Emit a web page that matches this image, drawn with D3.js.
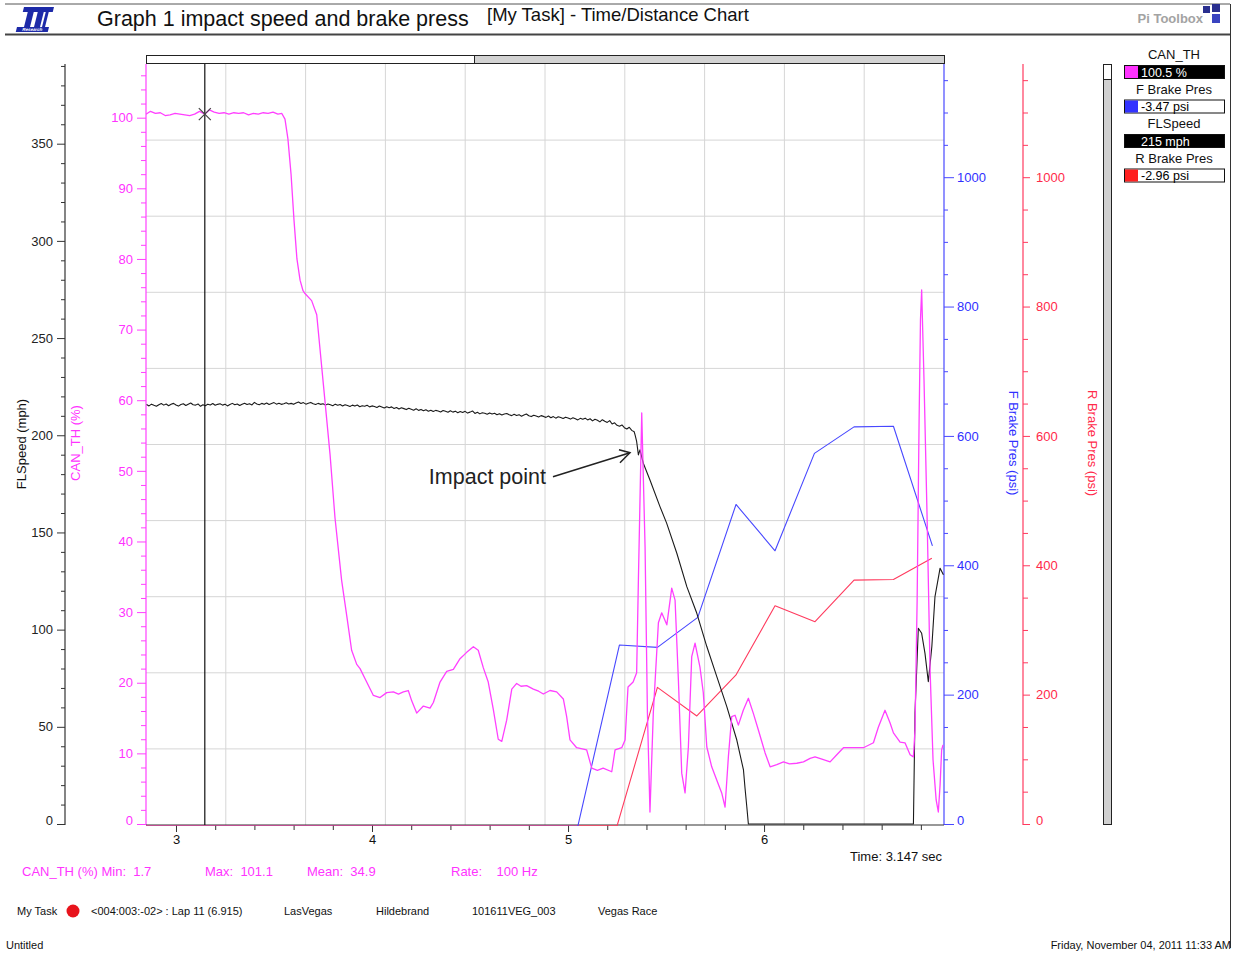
<!DOCTYPE html>
<html>
<head>
<meta charset="utf-8">
<script src="https://cdn.jsdelivr.net/npm/d3@7"></script>
<style>
  html, body { margin: 0; padding: 0; background: #fff; }
  svg { display: block; font-family: Arial, "Liberation Sans", sans-serif; }
</style>
</head>
<body>
<svg id="chart" width="1246" height="956"></svg>
<script>
// ---- Channel data: [time (s), value] ----
// CAN_TH throttle (%), 100 Hz
const canTh = [
  [2.847,100.5],[2.870,100.9],[2.895,100.6],[2.920,100.7],[2.945,100.3],[2.970,100.4],[2.995,100.6],
  [3.020,100.5],[3.045,100.4],[3.070,100.3],[3.095,100.5],[3.120,100.9],[3.147,100.5],[3.170,101.1],
  [3.195,100.8],[3.220,100.6],[3.245,100.7],[3.270,100.5],[3.295,100.7],[3.320,100.6],[3.345,100.7],
  [3.370,100.4],[3.395,100.6],[3.420,100.5],[3.445,100.7],[3.470,100.6],[3.495,100.8],[3.520,100.5],
  [3.540,100.6],[3.556,99.8],[3.571,97.0],[3.587,92.0],[3.602,85.5],[3.617,80.0],[3.633,77.0],
  [3.648,75.5],[3.658,75.1],[3.692,74.1],[3.718,72.1],[3.752,62.2],[3.786,52.3],[3.811,43.4],
  [3.845,34.5],[3.871,29.5],[3.896,24.6],[3.922,22.6],[3.939,22.0],[3.964,20.6],[4.007,18.2],
  [4.041,17.9],[4.075,18.6],[4.109,18.7],[4.135,18.4],[4.160,18.7],[4.185,18.9],[4.203,17.4],
  [4.228,15.7],[4.262,16.7],[4.296,16.4],[4.313,17.2],[4.347,20.1],[4.381,21.6],[4.415,21.9],
  [4.449,23.4],[4.483,24.3],[4.517,25.1],[4.542,24.6],[4.568,22.1],[4.593,20.1],[4.619,16.2],
  [4.644,12.0],[4.662,11.7],[4.687,14.7],[4.713,19.1],[4.738,19.9],[4.760,19.5],[4.789,19.6],
  [4.823,19.1],[4.850,18.8],[4.874,18.4],[4.908,18.9],[4.942,18.7],[4.976,17.7],[4.993,15.2],
  [5.010,11.9],[5.044,10.8],[5.095,10.5],[5.121,7.9],[5.150,7.6],[5.179,7.9],[5.223,7.4],
  [5.240,10.5],[5.274,10.8],[5.291,11.9],[5.306,19.4],[5.332,20.1],[5.350,21.4],[5.359,34.6],
  [5.376,58.2],[5.393,39.2],[5.405,15.7],[5.418,1.7],[5.435,15.7],[5.461,28.5],[5.478,29.9],
  [5.504,28.2],[5.529,33.4],[5.546,31.7],[5.563,20.4],[5.580,7.2],[5.597,4.4],[5.614,10.9],
  [5.631,23.7],[5.648,25.6],[5.673,22.2],[5.690,18.6],[5.708,10.9],[5.733,8.1],[5.759,6.2],
  [5.784,4.4],[5.801,2.4],[5.818,9.5],[5.835,15.2],[5.852,15.4],[5.869,14.0],[5.894,16.1],
  [5.920,17.8],[5.945,15.7],[5.971,13.3],[6.005,10.1],[6.031,8.1],[6.065,8.4],[6.099,8.8],
  [6.130,8.5],[6.167,8.6],[6.201,8.8],[6.235,9.3],[6.260,9.5],[6.303,9.1],[6.337,8.8],
  [6.371,9.8],[6.405,10.8],[6.456,10.8],[6.507,10.8],[6.558,11.5],[6.583,13.7],[6.617,16.1],
  [6.643,14.3],[6.660,12.9],[6.694,11.6],[6.719,11.5],[6.745,9.8],[6.762,9.5],[6.770,13.3],
  [6.781,31.7],[6.791,57.2],[6.798,71.4],[6.804,75.6],[6.816,62.9],[6.832,43.1],[6.847,21.8],
  [6.862,9.1],[6.878,3.4],[6.889,1.7],[6.898,5.5],[6.906,10.5],[6.913,11.2]
];

// FLSpeed (mph): logged samples every 0.0125 s up to the impact, then the deceleration
const speedStart = 2.85;
const speedStep = 0.0125;
const speedSamples = [
  215.8,215.1,216.0,215.4,214.9,215.7,216.3,215.5,216.1,215.2,
  215.9,216.4,215.6,215.0,215.8,216.2,215.3,216.0,216.6,215.7,
  215.5,216.1,214.9,215.7,215.2,216.0,215.6,216.3,215.4,215.9,
  216.2,215.5,216.0,215.1,215.8,216.4,215.7,216.1,215.3,216.0,
  216.5,215.8,216.2,215.6,216.9,216.1,215.7,216.4,215.9,216.6,
  215.8,216.3,216.8,216.0,216.5,215.9,216.2,216.7,216.1,216.4,
  215.9,216.6,217.1,216.3,216.8,216.0,216.5,216.9,216.2,215.8,
  216.4,215.9,216.2,215.5,216.1,215.7,215.2,216.0,215.4,215.8,
  215.1,215.7,215.3,214.8,215.5,215.0,215.6,214.7,215.2,214.9,
  215.4,214.6,215.1,214.8,214.3,215.0,214.5,214.0,214.7,214.2,
  214.6,213.8,214.3,213.5,214.1,213.7,213.2,213.9,213.4,212.9,
  213.6,212.8,213.3,212.6,213.1,212.4,212.9,212.2,212.8,212.5,
  212.0,212.7,212.3,211.8,212.6,211.9,212.4,211.6,212.2,211.7,
  212.3,211.4,211.9,212.5,211.2,211.8,211.0,211.6,211.3,210.8,
  211.5,210.9,211.3,210.6,211.1,210.4,210.9,211.2,210.5,210.1,
  210.8,210.2,210.6,209.8,210.4,210.9,210.0,209.6,210.3,209.9,
  209.4,210.1,209.7,209.2,209.9,209.0,209.6,208.8,209.5,209.1,
  208.6,209.3,208.9,208.3,209.0,208.5,207.9,208.7,208.2,208.8,
  207.9,208.5,207.4,208.2,207.7,206.9,208.0,207.2,206.6,207.5,
  205.8,206.4,205.1,204.6,205.3,203.9,203.2,204.1,202.5,201.8
];
const speedTail = [
  [5.342,200.2],[5.350,196.8],[5.359,189.9],[5.367,192.5],[5.384,185.6],[5.418,177.0],[5.469,163.3],
  [5.503,154.8],[5.555,139.3],[5.606,122.1],[5.657,108.4],[5.708,91.3],[5.759,75.8],[5.810,60.4],
  [5.861,43.2],[5.895,27.8],[5.903,18.4],[5.912,8.9],[5.920,0],[6.762,0],[6.770,57.0],
  [6.787,100.7],[6.804,98.1],[6.821,87.8],[6.838,73.2],[6.856,91.3],[6.872,117.0],[6.898,131.6],
  [6.915,128.2]
];
const flSpeed = speedSamples.map((v, i) => [speedStart + i * speedStep, v]).concat(speedTail);

// F Brake Pres (psi)
const fBrake = [
  [2.847,-3.47],[5.050,-3.4],[5.262,276.7],[5.456,273.0],[5.662,319.5],[5.857,494.0],
  [6.056,422.4],[6.257,573.0],[6.459,614.0],[6.660,615.0],[6.859,430.0]
];

// R Brake Pres (psi)
const rBrake = [
  [2.847,-2.96],[5.250,-2.9],[5.456,211.3],[5.657,167.0],[5.856,230.0],[6.056,337.4],
  [6.260,312.7],[6.459,377.0],[6.660,378.0],[6.856,410.7]
];

// Axis ticks
const timeMajor = [3, 4, 5, 6];
const timeMinor = [3.2,3.4,3.6,3.8,4.2,4.4,4.6,4.8,5.2,5.4,5.6,5.8,6.2,6.4,6.6,6.8];
const speedMajor = [0, 50, 100, 150, 200, 250, 300, 350];
const canMajor = [0, 10, 20, 30, 40, 50, 60, 70, 80, 90, 100];
const psiMajor = [0, 200, 400, 600, 800, 1000];

// Cursor and readouts
const cursorTime = 3.147;
const cursorReadouts = [
  { name: "CAN_TH", value: "100.5 %", swatch: "#ff33ff", fill: "#000", text: "#fff" },
  { name: "F Brake Pres", value: "-3.47 psi", swatch: "#3333ff", fill: "#fff", text: "#000" },
  { name: "FLSpeed", value: "215 mph", swatch: "#000", fill: "#000", text: "#fff" },
  { name: "R Brake Pres", value: "-2.96 psi", swatch: "#ff2020", fill: "#fff", text: "#000" }
];
const statLabels = [
  ["CAN_TH (%) Min:  1.7", 22], ["Max:  101.1", 205], ["Mean:  34.9", 307], ["Rate:    100 Hz", 451]
];
const infoLabels = [
  ["<004:003:-02> : Lap 11 (6.915)", 91], ["LasVegas", 284], ["Hildebrand", 376],
  ["101611VEG_003", 472], ["Vegas Race", 598]
];

// ---- Layout ----
const svg = d3.select("#chart");
const plot = { left: 146, right: 944, top: 64, bottom: 825 };
const zeroY = 824;

const x = d3.scaleLinear().domain([2.847, 6.918]).range([plot.left, plot.right]);
const ySpeed = d3.scaleLinear().domain([0, 391]).range([zeroY, plot.top]);
const yCan = d3.scaleLinear().domain([0, 107.6]).range([zeroY, plot.top]);
const yPsi = d3.scaleLinear().domain([0, 1175]).range([zeroY, plot.top]);

const COL = {
  can: "#ff40ff", canText: "#ff33ff",
  fb: "#4848ff", fbText: "#3030ff",
  rb: "#ff3a5e", rbText: "#ff2a4a",
  speed: "#1a1a1a", grid: "#d6d6d6"
};

// ---- Page frame / header ----
svg.append("line").attr("x1", 5).attr("x2", 1230).attr("y1", 4).attr("y2", 4).attr("stroke", "#555").attr("stroke-width", 1);
svg.append("line").attr("x1", 5).attr("x2", 1230).attr("y1", 34.5).attr("y2", 34.5).attr("stroke", "#444").attr("stroke-width", 2);
svg.append("line").attr("x1", 1230.5).attr("x2", 1230.5).attr("y1", 4).attr("y2", 948).attr("stroke", "#333").attr("stroke-width", 1);

// logo
const logo = svg.append("g").attr("transform", "translate(20,7) skewX(-14)");
logo.append("rect").attr("x", 4).attr("y", 0).attr("width", 30).attr("height", 5).attr("fill", "#1d2aa8");
logo.append("rect").attr("x", 9).attr("y", 5).attr("width", 6).attr("height", 15).attr("fill", "#1d2aa8");
logo.append("rect").attr("x", 19).attr("y", 5).attr("width", 6).attr("height", 15).attr("fill", "#1d2aa8");
logo.append("rect").attr("x", 27).attr("y", 5).attr("width", 3).attr("height", 15).attr("fill", "#1d2aa8");
logo.append("rect").attr("x", 2).attr("y", 20).attr("width", 32).attr("height", 5).attr("fill", "#1d2aa8");
logo.append("text").attr("x", 18).attr("y", 24).attr("text-anchor", "middle").attr("font-size", 4.5)
  .attr("font-weight", "bold").attr("fill", "#fff").text("Research");

svg.append("text").attr("x", 97).attr("y", 26).attr("font-size", 21.5).attr("fill", "#111")
  .text("Graph 1 impact speed and brake press");
svg.append("text").attr("x", 487).attr("y", 21).attr("font-size", 18.5).attr("fill", "#111")
  .text("[My Task] - Time/Distance Chart");
svg.append("text").attr("x", 1203).attr("y", 23).attr("text-anchor", "end").attr("font-size", 13)
  .attr("font-weight", "bold").attr("fill", "#a3a3a3").text("Pi Toolbox");
svg.append("rect").attr("x", 1203).attr("y", 6).attr("width", 7).attr("height", 7).attr("fill", "#2a2f8f");
svg.append("rect").attr("x", 1212).attr("y", 4).attr("width", 8).attr("height", 8).attr("fill", "#2a2f8f");
svg.append("rect").attr("x", 1212).attr("y", 14).attr("width", 8).attr("height", 9).attr("fill", "#3a44c0");

// ---- Grid ----
const grid = svg.append("g");
const gw = (plot.right - plot.left) / 10, gh = (plot.bottom - plot.top) / 10;
for (let i = 1; i < 10; i++) {
  grid.append("line").attr("x1", plot.left + i * gw).attr("x2", plot.left + i * gw)
    .attr("y1", plot.top).attr("y2", plot.bottom).attr("stroke", COL.grid);
  grid.append("line").attr("x1", plot.left).attr("x2", plot.right)
    .attr("y1", plot.top + i * gh).attr("y2", plot.top + i * gh).attr("stroke", COL.grid);
}

// ---- Top scroll bar ----
svg.append("rect").attr("x", plot.left + 0.5).attr("y", 55.5).attr("width", 474 - plot.left).attr("height", 8)
  .attr("fill", "#fff").attr("stroke", "#222");
svg.append("rect").attr("x", 474.5).attr("y", 55.5).attr("width", plot.right - 474).attr("height", 8)
  .attr("fill", "#d2d2d2").attr("stroke", "#222");

// ---- Right vertical scroll bar ----
svg.append("rect").attr("x", 1103.5).attr("y", 64.5).attr("width", 8).attr("height", 760)
  .attr("fill", "#d0d0d0").attr("stroke", "#222");
svg.append("rect").attr("x", 1103.5).attr("y", 64.5).attr("width", 8).attr("height", 15)
  .attr("fill", "#fff").attr("stroke", "#222");

// ---- Axes helper ----
function vAxis(pos, gen, scale, majors, minorStep, majorLen, minorLen, pad, color, textColor) {
  const minors = d3.range(0, scale.domain()[1], minorStep).filter(v => !majors.includes(v));
  const gMin = svg.append("g").attr("transform", `translate(${pos},0)`)
    .call(gen(scale).tickValues(minors).tickSize(minorLen).tickSizeOuter(0).tickFormat(""));
  const gMaj = svg.append("g").attr("transform", `translate(${pos},0)`)
    .call(gen(scale).tickValues(majors).tickSize(majorLen).tickSizeOuter(0).tickPadding(pad).tickFormat(d3.format("d")));
  [gMin, gMaj].forEach(g => {
    g.select(".domain").remove();
    g.selectAll("line").attr("stroke", color);
  });
  gMaj.selectAll("text").attr("fill", textColor).attr("font-size", 13)
    .attr("font-family", "Arial, 'Liberation Sans', sans-serif")
    .filter(d => d === 0).attr("y", -4);
  svg.append("line").attr("x1", pos).attr("x2", pos).attr("y1", plot.top).attr("y2", plot.bottom)
    .attr("stroke", color).attr("stroke-width", 1.2);
}

vAxis(65, d3.axisLeft, ySpeed, speedMajor, 10, 8, 4, 4, "#333", "#222");
vAxis(plot.left, d3.axisLeft, yCan, canMajor, 2, 9, 5, 4, COL.can, COL.canText);
vAxis(plot.right, d3.axisRight, yPsi, psiMajor, 50, 10, 4, 3, COL.fb, COL.fbText);
vAxis(1023, d3.axisRight, yPsi, psiMajor, 50, 7, 5, 6, COL.rb, COL.rbText);

// axis titles
function vTitle(xp, yp, rot, txt, color) {
  svg.append("text").attr("transform", `translate(${xp},${yp}) rotate(${rot})`)
    .attr("text-anchor", "middle").attr("dy", "0.35em").attr("font-size", 13).attr("fill", color).text(txt);
}
vTitle(21, 444, -90, "FLSpeed (mph)", "#111");
vTitle(75, 443, -90, "CAN_TH (%)", COL.canText);
vTitle(1014, 443, 90, "F Brake Pres (psi)", COL.fbText);
vTitle(1093, 443, 90, "R Brake Pres (psi)", COL.rbText);

// bottom time axis
const gxMin = svg.append("g").attr("transform", `translate(0,${plot.bottom})`)
  .call(d3.axisBottom(x).tickValues(timeMinor).tickSize(5).tickSizeOuter(0).tickFormat(""));
const gxMaj = svg.append("g").attr("transform", `translate(0,${plot.bottom})`)
  .call(d3.axisBottom(x).tickValues(timeMajor).tickSize(7).tickSizeOuter(0).tickPadding(3).tickFormat(d3.format("d")));
[gxMin, gxMaj].forEach(g => { g.select(".domain").remove(); g.selectAll("line").attr("stroke", "#333"); });
gxMaj.selectAll("text").attr("font-size", 13).attr("fill", "#111")
  .attr("font-family", "Arial, 'Liberation Sans', sans-serif");
svg.append("line").attr("x1", plot.left).attr("x2", plot.right).attr("y1", plot.bottom).attr("y2", plot.bottom)
  .attr("stroke", "#333").attr("stroke-width", 1.2);

// ---- Traces ----
svg.append("clipPath").attr("id", "plotClip").append("rect")
  .attr("x", plot.left).attr("y", plot.top).attr("width", plot.right - plot.left).attr("height", plot.bottom - plot.top + 1);
const traces = svg.append("g").attr("clip-path", "url(#plotClip)");

function trace(data, yScale, color, width) {
  traces.append("path").datum(data)
    .attr("d", d3.line().x(d => x(d[0])).y(d => yScale(d[1])))
    .attr("fill", "none").attr("stroke", color).attr("stroke-width", width).attr("stroke-linejoin", "round");
}
trace(rBrake, yPsi, COL.rb, 1.1);
trace(fBrake, yPsi, COL.fb, 1.1);
trace(flSpeed, ySpeed, COL.speed, 1.1);
trace(canTh, yCan, COL.can, 1.3);

// ---- Cursor ----
const cx = x(cursorTime);
svg.append("line").attr("x1", cx).attr("x2", cx).attr("y1", plot.top).attr("y2", plot.bottom)
  .attr("stroke", "#111").attr("stroke-width", 1.2);
const cy = yCan(100.5);
svg.append("path").attr("d", `M${cx - 6},${cy - 6}L${cx + 6},${cy + 6}M${cx - 6},${cy + 6}L${cx + 6},${cy - 6}`)
  .attr("stroke", "#444").attr("stroke-width", 1.2);

// ---- Impact annotation ----
const tipX = x(5.316), tipY = ySpeed(191);
const tailX = tipX - 77, tailY = tipY + 24;
svg.append("line").attr("x1", tailX).attr("y1", tailY).attr("x2", tipX).attr("y2", tipY)
  .attr("stroke", "#222").attr("stroke-width", 1.5);
svg.append("path").attr("d", `M${tipX - 11},${tipY - 3}L${tipX},${tipY}L${tipX - 10},${tipY + 10}`)
  .attr("fill", "none").attr("stroke", "#222").attr("stroke-width", 1.5);
svg.append("text").attr("x", tailX - 7).attr("y", tailY + 7).attr("text-anchor", "end")
  .attr("font-size", 21.5).attr("fill", "#222").text("Impact point");

// ---- Readout panel ----
cursorReadouts.forEach((r, i) => {
  const y0 = 55 + i * 34.5;
  svg.append("text").attr("x", 1174).attr("y", y0 + 4).attr("text-anchor", "middle")
    .attr("font-size", 13).attr("fill", "#111").text(r.name);
  svg.append("rect").attr("x", 1124.5).attr("y", y0 + 10.5).attr("width", 100).attr("height", 13)
    .attr("fill", r.fill).attr("stroke", "#111");
  svg.append("rect").attr("x", 1125).attr("y", y0 + 11).attr("width", 13).attr("height", 12).attr("fill", r.swatch);
  svg.append("text").attr("x", 1141).attr("y", y0 + 21.5).attr("font-size", 12.5).attr("fill", r.text).text(r.value);
});

// ---- Footer ----
svg.append("text").attr("x", 850).attr("y", 861).attr("font-size", 13).attr("fill", "#111").text(`Time: ${cursorTime} sec`);
statLabels.forEach(([t, xp]) => {
  svg.append("text").attr("x", xp).attr("y", 876).attr("font-size", 13).attr("fill", COL.canText)
    .style("white-space", "pre").text(t);
});
svg.append("text").attr("x", 17).attr("y", 915).attr("font-size", 11).attr("fill", "#111").text("My Task");
svg.append("circle").attr("cx", 73).attr("cy", 911).attr("r", 6.5).attr("fill", "#e8141c");
infoLabels.forEach(([t, xp]) => {
  svg.append("text").attr("x", xp).attr("y", 915).attr("font-size", 11).attr("fill", "#111").text(t);
});
svg.append("text").attr("x", 6).attr("y", 949).attr("font-size", 11).attr("fill", "#111").text("Untitled");
svg.append("text").attr("x", 1231).attr("y", 949).attr("text-anchor", "end").attr("font-size", 11)
  .attr("fill", "#111").text("Friday, November 04, 2011 11:33 AM");
</script>
</body>
</html>
